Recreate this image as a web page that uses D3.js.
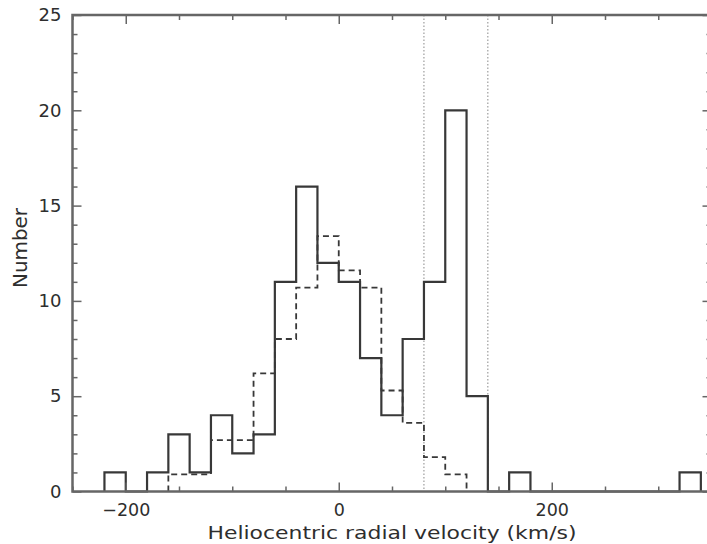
<!DOCTYPE html>
<html>
<head>
<meta charset="utf-8">
<script src="https://cdn.jsdelivr.net/npm/d3@7"></script>
<style>
  html, body { margin: 0; padding: 0; background: #fff; }
  svg { display: block; }
  text { font-family: "DejaVu Sans", sans-serif; fill: #2e2e2e; }
</style>
</head>
<body>
<svg id="chart" width="707" height="544"></svg>
<script>
// Observed velocity histogram: 20 km/s bins starting at -220 km/s
const binWidth = 20;
const observedStart = -220;
const observedCounts = [1, 0, 1, 3, 1, 4, 2, 3, 11, 16, 12, 11, 7, 4, 8, 11, 20, 5,
                        0, 1, 0, 0, 0, 0, 0, 0, 0, 1];

// Model distribution (dashed), same bin width, starting at -160 km/s
const modelStart = -160;
const modelCounts = [0.9, 0.9, 2.7, 2.7, 6.2, 8.0, 10.7, 13.4, 11.6, 10.7, 5.3, 3.6, 1.8, 0.9];

// Velocity window marked by dotted lines
const windowEdges = [80, 140];

const xMajorTicks = [-200, 0, 200];
const xMinorTicks = [-250, -150, -100, -50, 50, 100, 150, 250, 300];
const yMajorTicks = [0, 5, 10, 15, 20, 25];
const yMinorTicks = d3.range(0, 26).filter(v => v % 5 !== 0);

const xLabel = "Heliocentric radial velocity (km/s)";
const yLabel = "Number";

const svg = d3.select("#chart");
const plotLeft = 72.5, plotRight = 711.5, plotTop = 15, plotBottom = 491.5;

const x = d3.scaleLinear().domain([-250, 350]).range([plotLeft, plotRight]);
const y = d3.scaleLinear().domain([0, 25]).range([plotBottom, plotTop]);

const frameColor = "#666";
const lineColor = "#383838";
const textColor = "#2e2e2e";

// Step outline of a histogram, closed to the baseline at both ends
function stepPoints(start, counts) {
  const pts = [[start, 0]];
  counts.forEach((c, i) => {
    const e0 = start + i * binWidth;
    pts.push([e0, c], [e0 + binWidth, c]);
  });
  pts.push([start + counts.length * binWidth, 0]);
  return pts;
}
const line = d3.line().x(d => x(d[0])).y(d => y(d[1]));

// Dotted window lines
svg.append("g").selectAll("line").data(windowEdges).join("line")
  .attr("x1", d => x(d)).attr("x2", d => x(d))
  .attr("y1", plotTop).attr("y2", plotBottom)
  .attr("stroke", "#888").attr("stroke-width", 1)
  .attr("stroke-dasharray", "1.5,2");

// Model histogram (dashed)
svg.append("path")
  .attr("d", line(stepPoints(modelStart, modelCounts)))
  .attr("fill", "none").attr("stroke", lineColor)
  .attr("stroke-width", 1.8).attr("stroke-dasharray", "6,4");

// Observed histogram (solid)
svg.append("path")
  .attr("d", line(stepPoints(observedStart, observedCounts)))
  .attr("fill", "none").attr("stroke", lineColor)
  .attr("stroke-width", 2.2);

// Axes with inward-pointing ticks on all four sides
function styleAxis(g) {
  g.select(".domain").remove();
  g.selectAll(".tick line").attr("stroke", frameColor).attr("stroke-width", 1.5);
}
const noLabel = () => "";

svg.append("g").attr("transform", `translate(0,${plotBottom})`)
  .call(d3.axisBottom(x).tickValues(xMinorTicks).tickSize(-5).tickFormat(noLabel)).call(styleAxis);
svg.append("g").attr("transform", `translate(0,${plotTop})`)
  .call(d3.axisTop(x).tickValues(xMinorTicks).tickSize(-5).tickFormat(noLabel)).call(styleAxis);
svg.append("g").attr("transform", `translate(0,${plotTop})`)
  .call(d3.axisTop(x).tickValues(xMajorTicks).tickSize(-9).tickFormat(noLabel)).call(styleAxis);

const xAxis = svg.append("g").attr("transform", `translate(0,${plotBottom})`)
  .call(d3.axisBottom(x).tickValues(xMajorTicks).tickSize(-9).tickPadding(12)
    .tickFormat(d => d < 0 ? "\u2212" + Math.abs(d) : d))
  .call(styleAxis);
xAxis.selectAll("text").attr("font-size", 17.5).attr("fill", textColor)
  .attr("font-family", "DejaVu Sans, sans-serif").attr("dy", "0.71em");

svg.append("g").attr("transform", `translate(${plotLeft},0)`)
  .call(d3.axisLeft(y).tickValues(yMinorTicks).tickSize(-5).tickFormat(noLabel)).call(styleAxis);
svg.append("g").attr("transform", `translate(${plotRight},0)`)
  .call(d3.axisRight(y).tickValues(yMinorTicks).tickSize(-5).tickFormat(noLabel)).call(styleAxis);
svg.append("g").attr("transform", `translate(${plotRight},0)`)
  .call(d3.axisRight(y).tickValues(yMajorTicks).tickSize(-9).tickFormat(noLabel)).call(styleAxis);

const yAxis = svg.append("g").attr("transform", `translate(${plotLeft},0)`)
  .call(d3.axisLeft(y).tickValues(yMajorTicks).tickSize(-9).tickPadding(11))
  .call(styleAxis);
yAxis.selectAll("text").attr("font-size", 18).attr("fill", textColor)
  .attr("font-family", "DejaVu Sans, sans-serif");

// Frame
svg.append("rect")
  .attr("x", plotLeft).attr("y", plotTop)
  .attr("width", plotRight - plotLeft).attr("height", plotBottom - plotTop)
  .attr("fill", "none").attr("stroke", frameColor).attr("stroke-width", 2.5);

// Axis titles
svg.append("text")
  .attr("x", 392).attr("y", 538.5)
  .attr("text-anchor", "middle")
  .attr("font-size", 18.5)
  .attr("textLength", 369).attr("lengthAdjust", "spacingAndGlyphs")
  .text(xLabel);

svg.append("text")
  .attr("transform", "translate(27,248) rotate(-90)")
  .attr("text-anchor", "middle")
  .attr("font-size", 19)
  .attr("textLength", 80).attr("lengthAdjust", "spacingAndGlyphs")
  .text(yLabel);
</script>
</body>
</html>
